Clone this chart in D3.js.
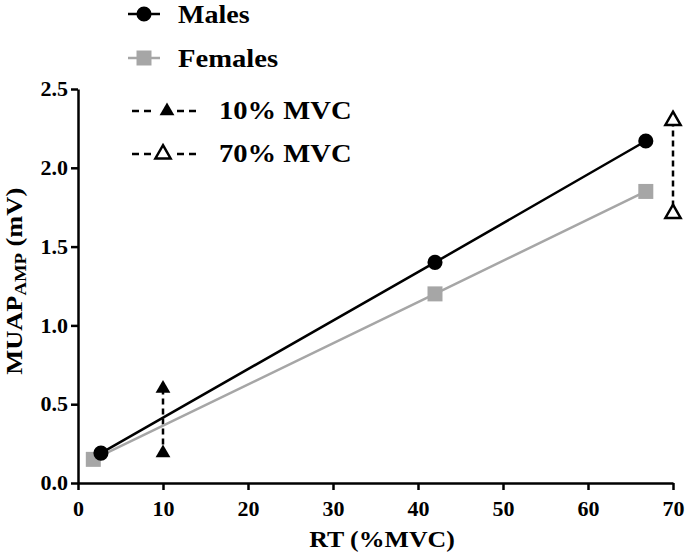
<!DOCTYPE html>
<html><head><meta charset="utf-8">
<script src="https://cdn.jsdelivr.net/npm/d3@7"></script>
</head><body style="margin:0;background:#fff">
<script>
const maleX = [2.7, 42, 66.8];
const maleY = [0.19, 1.40, 2.17];
const femaleX = [1.8, 42, 66.8];
const femaleY = [0.15, 1.20, 1.85];
const mvc10X = [10, 10];
const mvc10Y = [0.60, 0.19];
const mvc70X = [70, 70];
const mvc70Y = [2.30, 1.71];
const xTicks = [0, 10, 20, 30, 40, 50, 60, 70];
const yTicks = [0.0, 0.5, 1.0, 1.5, 2.0, 2.5];
const legendLabels = ["Males", "Females", "10% MVC", "70% MVC"];

const FONT = "'Liberation Serif', 'Times New Roman', Times, serif";
const SX = 1.1;
const W = 685, H = 558;
const svg = d3.select("body").append("svg").attr("width", W).attr("height", H)
  .style("display", "block")
  .attr("font-family", FONT).attr("font-weight", "bold");
const x = d3.scaleLinear().domain([0, 70]).range([78, 673]);
const y = d3.scaleLinear().domain([0, 2.5]).range([483, 89]);
const gray = "#a6a6a6";

function label(g, tx, ty, txt, size, anchor, rot) {
  return g.append("text")
    .attr("transform", `translate(${tx},${ty})${rot ? ` rotate(${rot})` : ""} scale(${SX},1)`)
    .attr("text-anchor", anchor || "start").attr("font-size", size).attr("fill", "#000").text(txt);
}

// axes
const xa = svg.append("g").attr("transform", `translate(0,${y(0)})`)
  .call(d3.axisBottom(x).tickValues(xTicks).tickFormat(d3.format("d")).tickSize(7).tickSizeOuter(0));
const ya = svg.append("g").attr("transform", `translate(${x(0)},0)`)
  .call(d3.axisLeft(y).tickValues(yTicks).tickFormat(d3.format(".1f")).tickSize(7).tickSizeOuter(0));
[xa, ya].forEach(g => {
  g.attr("font-family", FONT).attr("font-size", 20).attr("font-weight", "bold");
  g.select(".domain").attr("stroke", "#000").attr("stroke-width", 2.5);
  g.selectAll(".tick line").attr("stroke", "#000").attr("stroke-width", 2.5);
  g.selectAll(".tick text").attr("fill", "#000");
});
xa.selectAll(".tick text").attr("dy", null).attr("y", 33).attr("transform", `scale(${SX},1)`);
ya.selectAll(".tick text").attr("dy", "0.33em").attr("x", -10 / SX).attr("transform", `scale(${SX},1)`);

// axis titles
label(svg, 382, 547, "RT (%MVC)", 23.5, "middle");
const yt = svg.append("text")
  .attr("transform", `translate(22,${y(1.28)}) rotate(-90) scale(${SX},1)`)
  .attr("text-anchor", "middle").attr("font-size", 24);
yt.append("tspan").text("MUAP");
yt.append("tspan").attr("dy", 4).attr("font-size", 17).text("AMP");
yt.append("tspan").attr("dy", -4).text(" (mV)");

// dashed verticals
const vline = d3.line().x(d => x(d[0])).y(d => y(d[1]));
[[mvc10X, mvc10Y], [mvc70X, mvc70Y]].forEach(([xs, ys]) => {
  svg.append("path").attr("d", vline(xs.map((v, i) => [v, ys[i]])))
    .attr("stroke", "#000").attr("stroke-width", 2.5).attr("stroke-dasharray", "6,4").attr("fill", "none");
});

// lines
const lineGen = d3.line().x(d => x(d[0])).y(d => y(d[1]));
const fem = femaleX.map((v, i) => [v, femaleY[i]]);
const mal = maleX.map((v, i) => [v, maleY[i]]);
svg.append("path").attr("d", lineGen(fem)).attr("stroke", gray).attr("stroke-width", 2.5).attr("fill", "none");
svg.append("path").attr("d", lineGen(mal)).attr("stroke", "#000").attr("stroke-width", 2.5).attr("fill", "none");

// markers
const sq = d3.symbol().type(d3.symbolSquare).size(225);
const ci = d3.symbol().type(d3.symbolCircle).size(180);
const triF = d3.symbol().type(d3.symbolTriangle).size(95);
const triO = d3.symbol().type(d3.symbolTriangle).size(100);
svg.selectAll(".fm").data(fem).join("path").attr("d", sq).attr("fill", gray)
  .attr("transform", d => `translate(${x(d[0])},${y(d[1])})`);
svg.selectAll(".mm").data(mal).join("path").attr("d", ci).attr("fill", "#000")
  .attr("transform", d => `translate(${x(d[0])},${y(d[1])})`);
mvc10X.forEach((v, i) => svg.append("path").attr("d", triF).attr("fill", "#000")
  .attr("transform", `translate(${x(v)},${y(mvc10Y[i])})`));
mvc70X.forEach((v, i) => svg.append("path").attr("d", triO).attr("fill", "#fff").attr("stroke", "#000").attr("stroke-width", 2.5)
  .attr("transform", `translate(${x(v)},${y(mvc70Y[i])})`));

// legend
const lg = svg.append("g");
lg.append("line").attr("x1", 128).attr("x2", 160).attr("y1", 14).attr("y2", 14).attr("stroke", "#000").attr("stroke-width", 2.5);
lg.append("path").attr("d", ci).attr("fill", "#000").attr("transform", "translate(144,14)");
label(lg, 178, 23, legendLabels[0], 25.5);
lg.append("line").attr("x1", 128).attr("x2", 160).attr("y1", 58).attr("y2", 58).attr("stroke", gray).attr("stroke-width", 2.5);
lg.append("path").attr("d", sq).attr("fill", gray).attr("transform", "translate(144,58)");
label(lg, 178, 67, legendLabels[1], 26);
[[111, 167, triF, "#000", 0], [154, 163, triO, "#fff", 2.5]].forEach(([ly, tx, sym, fill, sw], i) => {
  lg.append("line").attr("x1", 132).attr("x2", 151).attr("y1", ly).attr("y2", ly).attr("stroke", "#000").attr("stroke-width", 2.5).attr("stroke-dasharray", "7,5");
  lg.append("line").attr("x1", 177).attr("x2", 197).attr("y1", ly).attr("y2", ly).attr("stroke", "#000").attr("stroke-width", 2.5).attr("stroke-dasharray", "7,5");
  lg.append("path").attr("d", sym).attr("fill", fill).attr("stroke", sw ? "#000" : "none").attr("stroke-width", sw)
    .attr("transform", `translate(${tx},${ly})`);
  label(lg, 219, ly + 8, legendLabels[2 + i], 26);
});
</script>
</body></html>
